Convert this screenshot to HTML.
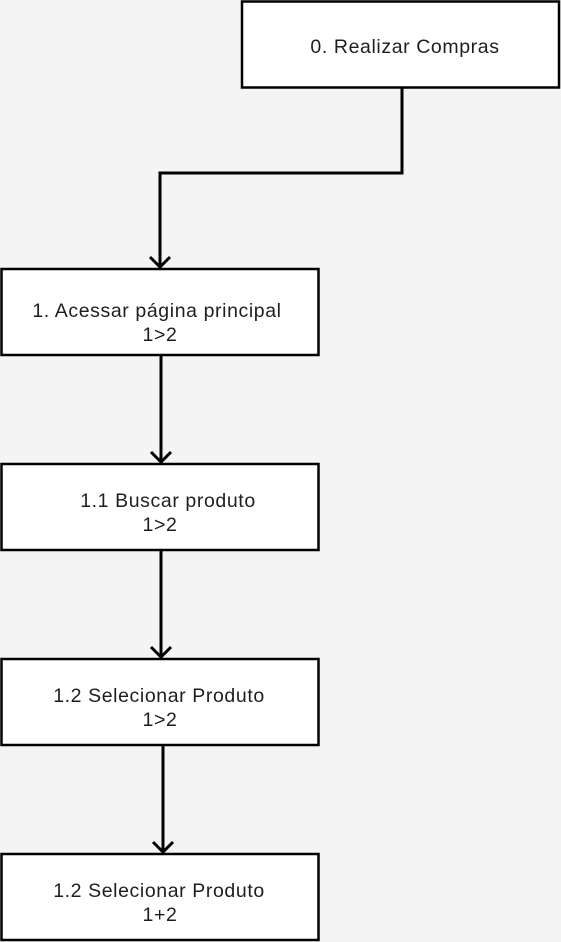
<!DOCTYPE html>
<html><head><meta charset="utf-8"><style>
html,body{margin:0;padding:0;background:#f4f4f4;}
svg{display:block}
text{font-family:"Liberation Sans",sans-serif;font-size:19.5px;letter-spacing:0.6px;fill:#1e1e1e;text-anchor:middle}
</style></head><body>
<svg width="561" height="942" viewBox="0 0 561 942" xmlns="http://www.w3.org/2000/svg">
<rect width="561" height="942" fill="#f4f4f4"/>
<g fill="#fff" stroke="#000" stroke-width="2.5">
<rect x="242" y="1.5" width="317" height="86"/>
<rect x="1.5" y="269" width="317" height="86"/>
<rect x="1.5" y="464" width="317" height="86"/>
<rect x="1.5" y="659" width="317" height="86"/>
<rect x="1.5" y="854" width="317" height="86"/>
</g>
<g fill="none" stroke="#000" stroke-width="3">
<polyline points="402,88 402,173 160,173 160,267"/>
<polyline points="150,257 160,267 170,257"/>
<line x1="161" y1="356" x2="161" y2="462"/>
<polyline points="151,452 161,462 171,452"/>
<line x1="161" y1="551" x2="161" y2="657"/>
<polyline points="151,647 161,657 171,647"/>
<line x1="163" y1="746" x2="163" y2="852"/>
<polyline points="153,842 163,852 173,842"/>
</g>
<text x="405" y="53">0. Realizar Compras</text>
<text x="157" y="317">1. Acessar página principal</text>
<text x="160" y="341">1&gt;2</text>
<text x="168" y="507">1.1 Buscar produto</text>
<text x="160" y="531">1&gt;2</text>
<text x="159" y="702">1.2 Selecionar Produto</text>
<text x="160" y="726">1&gt;2</text>
<text x="159" y="897">1.2 Selecionar Produto</text>
<text x="160" y="921">1+2</text>
</svg>
</body></html>
